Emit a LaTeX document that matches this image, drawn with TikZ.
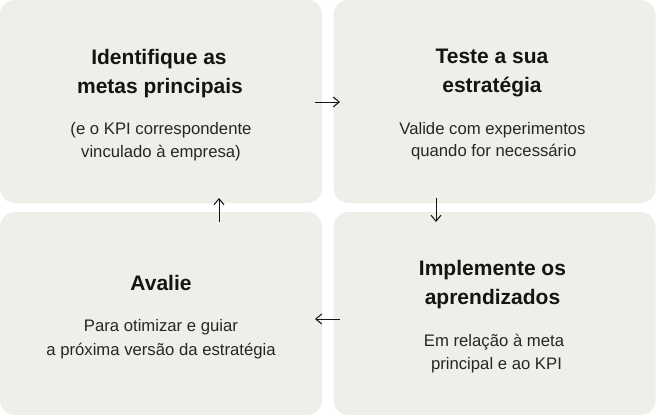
\documentclass[tikz,border=0pt]{standalone}
\usepackage{fontspec}
\setmainfont{Liberation Sans}
\usetikzlibrary{arrows.meta}
\definecolor{boxfill}{HTML}{EFEEE9}
\definecolor{titlecol}{HTML}{141414}
\definecolor{subcol}{HTML}{262626}
\tikzset{
  card/.style={fill=boxfill, draw=none, rounded corners=15pt, minimum width=322pt, minimum height=203pt, inner sep=0pt},
  ttl/.style={anchor=base, inner sep=0pt, text=titlecol, font=\bfseries\fontsize{21}{30}\selectfont},
  sub/.style={anchor=base, inner sep=0pt, text=subcol, font=\fontsize{16.7}{23}\selectfont},
  flow/.style={draw=titlecol, line width=1pt, -{Straight Barb[length=6pt,width=10pt,line width=1pt]}}
}
\begin{document}
\begin{tikzpicture}[x=1pt,y=-1pt]
\useasboundingbox (0,0) rectangle (656,415);
\fill[white] (0,0) rectangle (656,415);
% cards
\node[card] (c1) at (161,101.5) {};
\node[card] (c2) at (494.5,101.5) {};
\node[card] (c3) at (161,313.5) {};
\node[card] (c4) at (494.5,313.5) {};
% card 1
\node[ttl] (t1a) at (159,64) {Identifique as};
\node[ttl] (t1b) at (160,93) {metas principais};
\node[sub] (s1a) at (161,134.3) {(e o KPI correspondente};
\node[sub] (s1b) at (161,157.3) {vinculado à empresa)};
% card 2
\node[ttl] (t2a) at (492,63.5) {Teste a sua};
\node[ttl] (t2b) at (492,92.7) {estratégia};
\node[sub] (s2a) at (492.5,134.3) {Valide com experimentos};
\node[sub] (s2b) at (493.7,156.7) {quando for necessário};
% card 3
\node[ttl] (t3a) at (161,290) {Avalie};
\node[sub] (s3a) at (161,331.7) {Para otimizar e guiar};
\node[sub] (s3b) at (161,355) {a próxima versão da estratégia};
% card 4
\node[ttl] (t4a) at (492.5,275) {Implemente os};
\node[ttl] (t4b) at (492.5,304.3) {aprendizados};
\node[sub] (s4a) at (494,346.7) {Em relação à meta};
\node[sub] (s4b) at (496.5,369.3) {principal e ao KPI};
% arrows
\coordinate (r1) at (315,102);
\coordinate (r2) at (340,102);
\coordinate (d1) at (436,198);
\coordinate (d2) at (436,222);
\coordinate (l1) at (340,319);
\coordinate (l2) at (315,319);
\coordinate (u1) at (219,222);
\coordinate (u2) at (219,198);
\draw[flow] (r1) -- (r2);
\draw[flow] (d1) -- (d2);
\draw[flow] (l1) -- (l2);
\draw[flow] (u1) -- (u2);
\end{tikzpicture}
\end{document}
